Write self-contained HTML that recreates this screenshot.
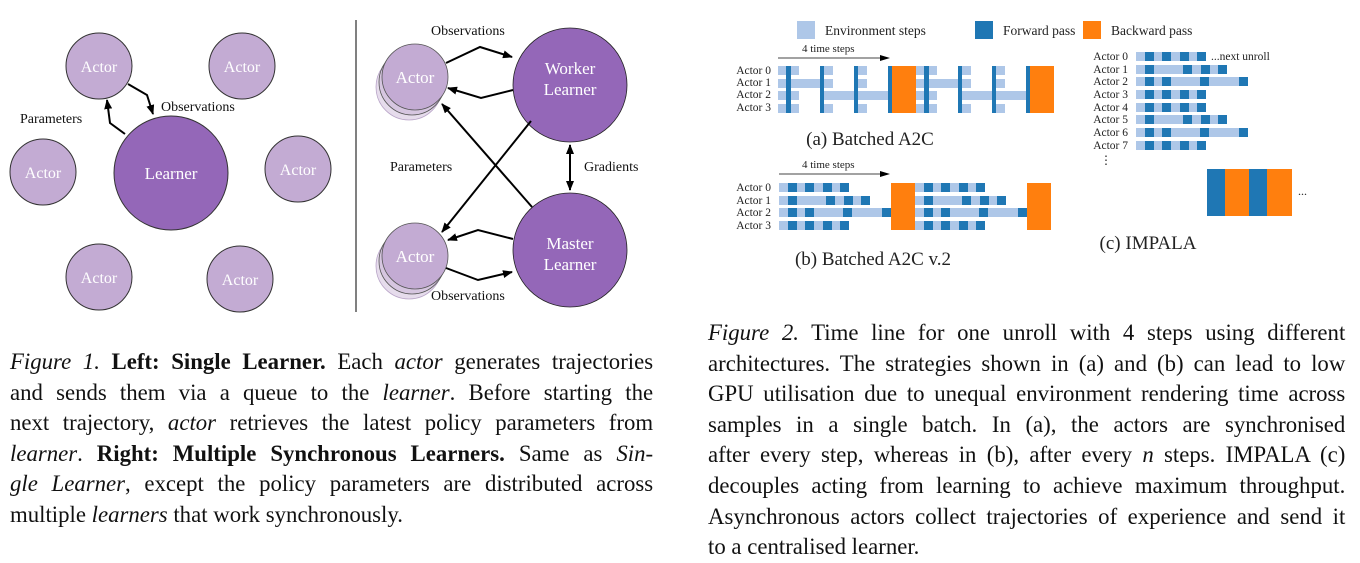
<!DOCTYPE html>
<html><head><meta charset="utf-8"><style>
body{margin:0;background:#fff;width:1360px;height:562px;overflow:hidden;position:relative;font-family:"Liberation Serif",serif;}
svg{position:absolute;left:0;top:0}
.cap{position:absolute;font-size:23.5px;line-height:30.6px;color:#111;transform:scaleX(0.97);transform-origin:0 0;}
.cap div{text-align:justify;text-align-last:justify;white-space:nowrap;}
.cap div.l{text-align-last:left;}
</style></head><body>
<svg width="1360" height="562" viewBox="0 0 1360 562" font-family="Liberation Serif, serif">
<defs><marker id="ah" markerWidth="10" markerHeight="8" refX="9" refY="4" orient="auto" markerUnits="userSpaceOnUse"><path d="M0,0 L10,4 L0,8 z" fill="#000"/></marker></defs>
<g stroke="#333" stroke-width="1" fill="#c3abd3">
<circle cx="99" cy="66" r="33"/><circle cx="242" cy="66" r="33"/>
<circle cx="43" cy="172" r="33"/><circle cx="298" cy="169" r="33"/>
<circle cx="99" cy="277" r="33"/><circle cx="240" cy="279" r="33"/>
<circle cx="171" cy="173" r="57" fill="#9467b8"/>
</g>
<g fill="#fff" font-size="16" text-anchor="middle">
<text x="99" y="72">Actor</text><text x="242" y="72">Actor</text>
<text x="43" y="178">Actor</text><text x="298" y="175">Actor</text>
<text x="99" y="283">Actor</text><text x="240" y="285">Actor</text>
<text x="171" y="179" font-size="17">Learner</text>
</g>
<g stroke="#000" stroke-width="2" fill="none">
<polyline points="128,84 147,95 153,114" marker-end="url(#ah)"/>
<polyline points="125,134 110,123 107,100" marker-end="url(#ah)"/>
</g>
<g font-size="14" fill="#111"><text x="20" y="123">Parameters</text><text x="161" y="111">Observations</text></g>
<line x1="356" y1="20" x2="356" y2="312" stroke="#000" stroke-width="1"/>
<g stroke="#555" stroke-width="0.8" fill="#c3abd3">
<circle cx="409" cy="87" r="33" fill="#e6dcec" stroke="#b9a5c8"/><circle cx="412" cy="82" r="33" fill="#d6c6e0"/><circle cx="415" cy="77" r="33"/>
<circle cx="409" cy="266" r="33" fill="#e6dcec" stroke="#b9a5c8"/><circle cx="412" cy="261" r="33" fill="#d6c6e0"/><circle cx="415" cy="256" r="33"/>
<circle cx="570" cy="85" r="57" fill="#9467b8" stroke="#222"/>
<circle cx="570" cy="250" r="57" fill="#9467b8" stroke="#222"/>
</g>
<g fill="#fff" font-size="17" text-anchor="middle">
<text x="415" y="83">Actor</text><text x="415" y="262">Actor</text>
<text x="570" y="74">Worker</text><text x="570" y="95">Learner</text>
<text x="570" y="249">Master</text><text x="570" y="270">Learner</text>
</g>
<g stroke="#000" stroke-width="2" fill="none">
<polyline points="446,63 480,47 512,57" marker-end="url(#ah)"/>
<polyline points="513,90 481,98 448,88" marker-end="url(#ah)"/>
<line x1="531" y1="121" x2="442" y2="232" marker-end="url(#ah)"/>
<line x1="532" y1="207" x2="442" y2="104" marker-end="url(#ah)"/>
<line x1="570" y1="145" x2="570" y2="190" marker-end="url(#ah)"/>
<line x1="570" y1="190" x2="570" y2="145" marker-end="url(#ah)"/>
<polyline points="513,239 478,230 448,240" marker-end="url(#ah)"/>
<polyline points="446,268 478,280 512,272" marker-end="url(#ah)"/>
</g>
<g font-size="14" fill="#111"><text x="431" y="35">Observations</text><text x="390" y="171">Parameters</text><text x="584" y="171">Gradients</text><text x="431" y="300">Observations</text></g>

<rect x="797" y="21" width="18" height="18" fill="#aec7e8"/><text x="825" y="35" font-size="13.5" fill="#222">Environment steps</text>
<rect x="975" y="21" width="18" height="18" fill="#1f77b4"/><text x="1003" y="35" font-size="13.5" fill="#222">Forward pass</text>
<rect x="1083" y="21" width="18" height="18" fill="#ff7f0e"/><text x="1111" y="35" font-size="13.5" fill="#222">Backward pass</text>

<g font-size="11.5" fill="#222" text-anchor="end">
<text x="771" y="74">Actor 0</text><text x="771" y="86">Actor 1</text><text x="771" y="98">Actor 2</text><text x="771" y="111">Actor 3</text>
<text x="771" y="191">Actor 0</text><text x="771" y="204">Actor 1</text><text x="771" y="216">Actor 2</text><text x="771" y="229">Actor 3</text>
<text x="1128" y="60">Actor 0</text><text x="1128" y="73">Actor 1</text><text x="1128" y="85">Actor 2</text><text x="1128" y="98">Actor 3</text>
<text x="1128" y="111">Actor 4</text><text x="1128" y="123">Actor 5</text><text x="1128" y="136">Actor 6</text><text x="1128" y="149">Actor 7</text>
</g>
<text x="802" y="52" font-size="11" fill="#222">4 time steps</text>
<line x1="778" y1="58" x2="882" y2="58" stroke="#444" stroke-width="1"/><path d="M880,55 L890,58 L880,61z" fill="#000"/>
<text x="802" y="168" font-size="11" fill="#222">4 time steps</text>
<line x1="779" y1="174" x2="882" y2="174" stroke="#444" stroke-width="1"/><path d="M880,171 L890,174 L880,177z" fill="#000"/>

<g id="pa">
<g fill="#aec7e8">
<rect x="778" y="66" width="21" height="9"/><rect x="824" y="66" width="9" height="9"/><rect x="858" y="66" width="9" height="9"/>
<rect x="778" y="79" width="55" height="9"/><rect x="858" y="79" width="9" height="9"/>
<rect x="778" y="91" width="21" height="9"/><rect x="824" y="91" width="64" height="9"/>
<rect x="778" y="104" width="21" height="9"/><rect x="824" y="104" width="9" height="9"/><rect x="858" y="104" width="9" height="9"/>
</g>
<g fill="#1f77b4"><rect x="786" y="66" width="5" height="47"/><rect x="820" y="66" width="4" height="47"/><rect x="854" y="66" width="4" height="47"/><rect x="888" y="66" width="4" height="47"/></g>
<rect x="892" y="66" width="24" height="47" fill="#ff7f0e"/>
</g>
<use href="#pa" x="138"/>
<text x="870" y="145" font-size="19" text-anchor="middle" fill="#222">(a) Batched A2C</text>

<defs>
<g id="r0"><rect x="0" width="70" height="9" fill="#aec7e8"/><g fill="#1f77b4"><rect x="9" width="9" height="9"/><rect x="26" width="9" height="9"/><rect x="44" width="9" height="9"/><rect x="61" width="9" height="9"/></g></g>
<g id="r1"><rect x="0" width="91" height="9" fill="#aec7e8"/><g fill="#1f77b4"><rect x="9" width="9" height="9"/><rect x="47" width="9" height="9"/><rect x="65" width="9" height="9"/><rect x="82" width="9" height="9"/></g></g>
<g id="r2"><rect x="0" width="112" height="9" fill="#aec7e8"/><g fill="#1f77b4"><rect x="9" width="9" height="9"/><rect x="26" width="9" height="9"/><rect x="64" width="9" height="9"/><rect x="103" width="9" height="9"/></g></g>
</defs>
<g id="pb">
<use href="#r0" x="779" y="183"/><use href="#r1" x="779" y="196"/><use href="#r2" x="779" y="208"/><use href="#r0" x="779" y="221"/>
<rect x="891" y="183" width="24" height="47" fill="#ff7f0e"/>
</g>
<use href="#pb" x="136"/>
<text x="873" y="265" font-size="19" text-anchor="middle" fill="#222">(b) Batched A2C v.2</text>

<use href="#r0" x="1136" y="52"/><use href="#r1" x="1136" y="65"/><use href="#r2" x="1136" y="77"/><use href="#r0" x="1136" y="90"/>
<use href="#r0" x="1136" y="103"/><use href="#r1" x="1136" y="115"/><use href="#r2" x="1136" y="128"/><use href="#r0" x="1136" y="141"/>
<text x="1211" y="60" font-size="11.5" fill="#222">...next unroll</text>
<text x="1106" y="164" font-size="12" fill="#222" text-anchor="middle">⋮</text>
<rect x="1207" y="169" width="18" height="47" fill="#1f77b4"/><rect x="1225" y="169" width="24" height="47" fill="#ff7f0e"/>
<rect x="1249" y="169" width="18" height="47" fill="#1f77b4"/><rect x="1267" y="169" width="25" height="47" fill="#ff7f0e"/>
<text x="1298" y="195" font-size="12" fill="#222">...</text>
<text x="1148" y="249" font-size="19" text-anchor="middle" fill="#222">(c) IMPALA</text>
</svg>

<div class="cap" style="left:10px;top:347px;width:663px">
<div><i>Figure 1.</i> <b>Left: Single Learner.</b> Each <i>actor</i> generates trajectories</div>
<div>and sends them via a queue to the <i>learner</i>. Before starting the</div>
<div>next trajectory, <i>actor</i> retrieves the latest policy parameters from</div>
<div><i>learner</i>. <b>Right: Multiple Synchronous Learners.</b> Same as <i>Sin-</i></div>
<div><i>gle Learner</i>, except the policy parameters are distributed across</div>
<div class="l">multiple <i>learners</i> that work synchronously.</div>
</div>
<div class="cap" style="left:708px;top:318px;width:657px">
<div><i>Figure 2.</i> Time line for one unroll with 4 steps using different</div>
<div>architectures. The strategies shown in (a) and (b) can lead to low</div>
<div>GPU utilisation due to unequal environment rendering time across</div>
<div>samples in a single batch. In (a), the actors are synchronised</div>
<div>after every step, whereas in (b), after every <i>n</i> steps. IMPALA (c)</div>
<div>decouples acting from learning to achieve maximum throughput.</div>
<div>Asynchronous actors collect trajectories of experience and send it</div>
<div class="l">to a centralised learner.</div>
</div>
</body></html>
